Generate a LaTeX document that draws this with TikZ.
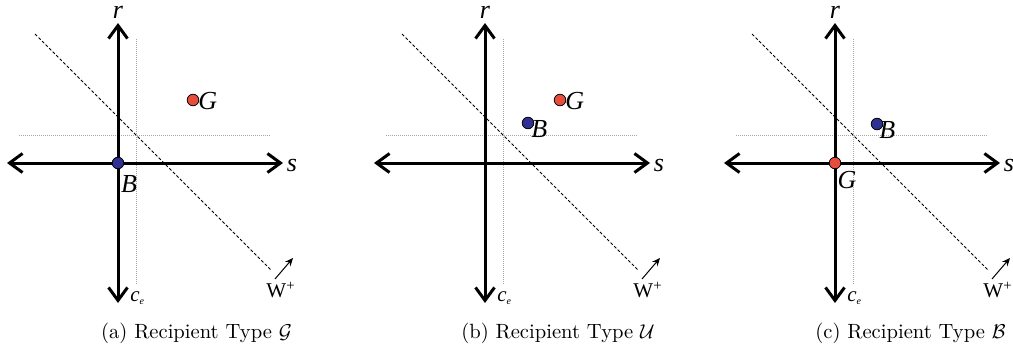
\documentclass[tikz,border=0pt]{standalone}
\usepackage{fontspec}
\newfontfamily\tms{Liberation Serif}
\usetikzlibrary{arrows.meta}
\definecolor{dotred}{HTML}{E74C3C}
\definecolor{dotblue}{HTML}{2E3192}
\tikzset{
  axis/.style={line width=1.5pt, {Straight Barb[length=6.5pt,width=9.5pt]}-{Straight Barb[length=6.5pt,width=9.5pt]}},
  guide/.style={gray!70, line width=0.5pt, dash pattern=on 0.5pt off 0.5pt},
  wline/.style={line width=0.4pt, dash pattern=on 1.5pt off 1pt},
  warrow/.style={line width=0.5pt, -{Stealth[length=4pt,width=3.5pt]}},
  pt/.style={circle, inner sep=0pt, minimum size=5.8pt, draw=black, line width=0.4pt},
  lbl/.style={font=\tms\itshape\fontsize{13}{13}\selectfont, inner sep=0pt},
  small/.style={font=\tms\fontsize{10.5}{10.5}\selectfont, inner sep=0pt},
  captxt/.style={font=\fontsize{10.3}{12}\selectfont, anchor=base, inner sep=0pt}
}
\newcommand\axesframe{%
  \coordinate (O) at (118,163);
  \coordinate (T) at (118,23);
  \coordinate (Bt) at (118,303);
  \coordinate (L) at (7,163);
  \coordinate (R) at (283,163);
  \coordinate (gv1) at (136,39);
  \coordinate (gv2) at (136,285);
  \coordinate (gh1) at (19,135);
  \coordinate (gh2) at (271,135);
  \coordinate (d1) at (35,34);
  \coordinate (d2) at (271,270);
  \coordinate (w1) at (275,279);
  \coordinate (w2) at (293,258);
  \draw[guide] (gv1) -- (gv2);
  \draw[guide] (gh1) -- (gh2);
  \draw[wline] (d1) -- (d2);
  \draw[warrow] (w1) -- (w2);
  \draw[axis] (Bt) -- (T);
  \draw[axis] (L) -- (R);
  \node[lbl, anchor=base] (r) at (118,18) {r};
  \node[lbl] (s) at (292,165) {s};
  \node[small, anchor=west] (ce) at (130,298) {\itshape c\raisebox{-1.5pt}{\fontsize{5}{5}\selectfont e}};
  \node[small] (W) at (281,290) {W\textsuperscript{+}};
}
\begin{document}
\begin{tikzpicture}[x=0.5pt,y=-0.5pt]
\useasboundingbox (0,0) rectangle (1013,354);
% panel (a)
\begin{scope}[name prefix=a-]
  \axesframe
  \node[pt, fill=dotred] (G) at (193,100) {};
  \node[lbl, anchor=west] (Gl) at (198,101) {G};
  \node[pt, fill=dotblue] (B) at (O) {};
  \node[lbl] (Bl) at (129,184) {B};
  \node[captxt] (cap) at (196.5,338) {(a) Recipient Type $\mathcal{G}$};
\end{scope}
% panel (b)
\begin{scope}[shift={(367,0)}, name prefix=b-]
  \axesframe
  \node[pt, fill=dotred] (G) at (193,100) {};
  \node[lbl, anchor=west] (Gl) at (198,101) {G};
  \node[pt, fill=dotblue] (B) at (161,123) {};
  \node[lbl, anchor=west] (Bl) at (164,129) {B};
  \node[captxt] (cap) at (191,338) {(b) Recipient Type $\mathcal{U}$};
\end{scope}
% panel (c)
\begin{scope}[shift={(717,0)}, name prefix=c-]
  \axesframe
  \node[pt, fill=dotred] (G) at (O) {};
  \node[lbl] (Gl) at (130,180) {G};
  \node[pt, fill=dotblue] (B) at (160,124) {};
  \node[lbl, anchor=west] (Bl) at (162,130) {B};
  \node[captxt] (cap) at (193.5,338) {(c) Recipient Type $\mathcal{B}$};
\end{scope}
\end{tikzpicture}
\end{document}
